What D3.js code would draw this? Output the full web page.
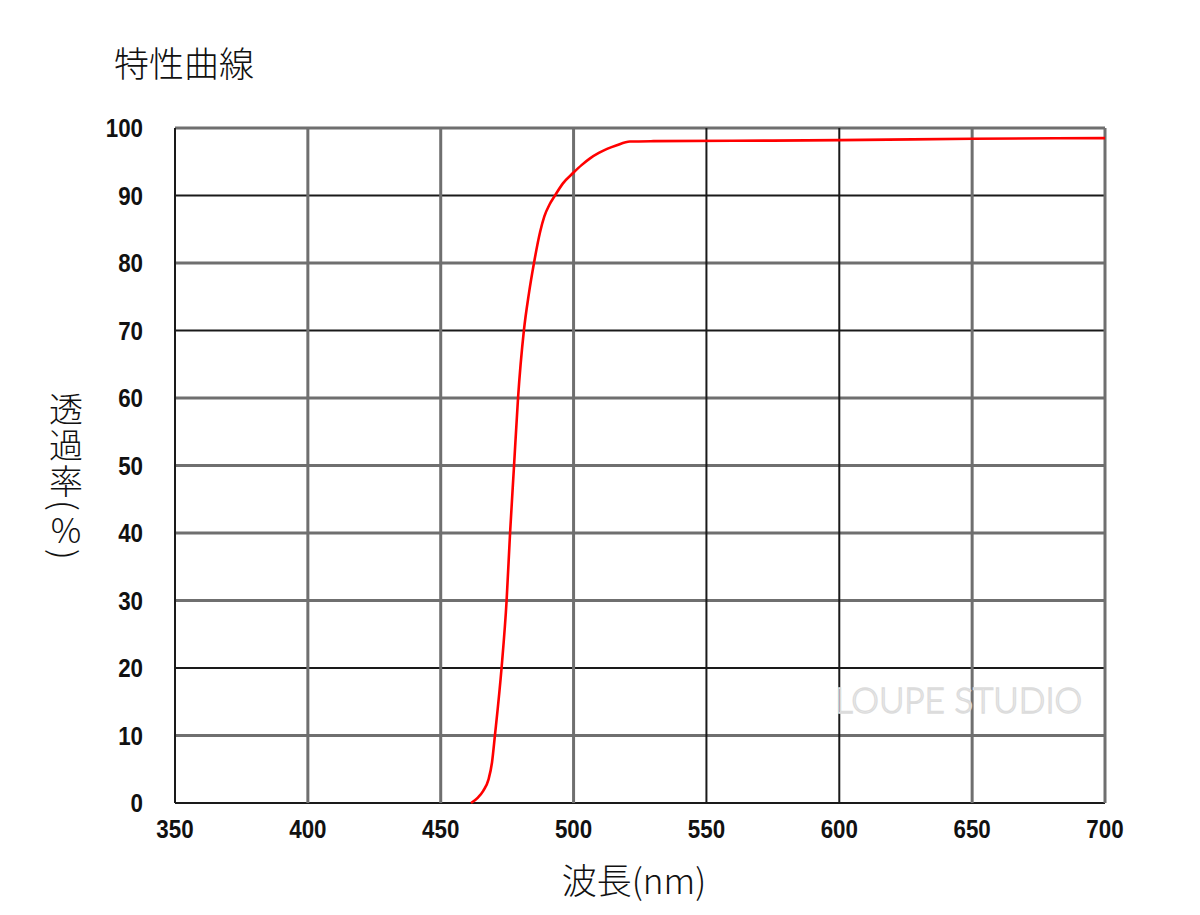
<!DOCTYPE html>
<html><head><meta charset="utf-8">
<script src="https://cdn.jsdelivr.net/npm/d3@7"></script>
<style>html,body{margin:0;padding:0;background:#fff;}svg{display:block;}</style>
</head><body>
<script>
const xTicks = [350,400,450,500,550,600,650,700];
const yTicks = [0,10,20,30,40,50,60,70,80,90,100];
const wavelength = [461.4,464,466,468,469.3,470.4,472.9,474.8,476.1,477.6,479.1,481.3,483.2,485.1,487.4,489,491,493,496,500,503,506.2,509.5,512.6,516,521.2,530,560,600,650,700];
const transmit =   [0,0.8,1.8,3.5,6,10,20,30,40,50,60,70,75.5,80,84.6,86.9,88.7,90,91.8,93.4,94.5,95.5,96.3,96.9,97.4,98,98.05,98.1,98.2,98.4,98.5];
const darkX = [350,550,600];
const darkY = [0,20,70,90];

const W=1200,H=915;
const m={l:175,r:1105,t:128,b:803};
const svg=d3.select("body").append("svg").attr("width",W).attr("height",H);
const x=d3.scaleLinear().domain([350,700]).range([m.l,m.r]);
const y=d3.scaleLinear().domain([0,100]).range([m.b,m.t]);

const g=svg.append("g");
g.selectAll(".hg").data(yTicks).join("line")
  .attr("x1",m.l).attr("x2",m.r).attr("y1",d=>y(d)).attr("y2",d=>y(d))
  .attr("stroke",d=>darkY.includes(d)?"#1a1a1a":"#6f6f6f")
  .attr("stroke-width",d=>darkY.includes(d)?2:3);
g.selectAll(".vg").data(xTicks).join("line")
  .attr("y1",m.t).attr("y2",m.b).attr("x1",d=>x(d)).attr("x2",d=>x(d))
  .attr("stroke",d=>darkX.includes(d)?"#1a1a1a":"#6f6f6f")
  .attr("stroke-width",d=>darkX.includes(d)?2:3);

// watermark
svg.append("text").attr("x",835).attr("y",713)
  .attr("font-family","Lato, 'Open Sans', sans-serif").attr("font-size",35).attr("font-weight",300)
  .attr("fill","none").attr("stroke","#dcdcdc").attr("stroke-width",1.4)
  .text("LOUPE STUDIO");

// curve
const line=d3.line().x((d,i)=>x(wavelength[i])).y((d,i)=>y(transmit[i])).curve(d3.curveMonotoneX);
svg.append("path").datum(transmit).attr("d",line).attr("fill","none")
  .attr("stroke","#ff0000").attr("stroke-width",2.6);

// tick labels (condensed bold)
const tickFont="'Liberation Sans','Arial',sans-serif";
svg.selectAll(".yl").data(yTicks).join("text")
  .attr("transform",d=>`translate(143,${y(d)+9}) scale(0.86,1)`).attr("text-anchor","end")
  .attr("font-family",tickFont).attr("font-weight","bold").attr("font-size",26)
  .attr("fill","#111").text(d=>d);
svg.selectAll(".xl").data(xTicks).join("text")
  .attr("transform",d=>`translate(${x(d)},838) scale(0.86,1)`).attr("text-anchor","middle")
  .attr("font-family",tickFont).attr("font-weight","bold").attr("font-size",26)
  .attr("fill","#111").text(d=>d);

const cjk="'Noto Sans CJK JP','Noto Sans',sans-serif";
svg.append("text").attr("x",114).attr("y",77).attr("font-family",cjk)
  .attr("font-size",35).attr("font-weight",300).attr("fill","#111").text("特性曲線");
svg.append("text").attr("x",634).attr("y",894).attr("text-anchor","middle").attr("font-family",cjk)
  .attr("font-size",35).attr("font-weight",300).attr("fill","#111").text("波長(nm)");

// vertical y label
const yt=svg.append("text").attr("x",66).attr("y",392)
  .attr("font-family",cjk).attr("font-size",34).attr("font-weight",300).attr("fill","#111")
  .attr("letter-spacing",2)
  .style("writing-mode","vertical-rl").style("text-orientation","mixed");
yt.append("tspan").text("透過率(");
yt.append("tspan").style("text-orientation","upright").text("%");
yt.append("tspan").text(")");
</script>
</body></html>
